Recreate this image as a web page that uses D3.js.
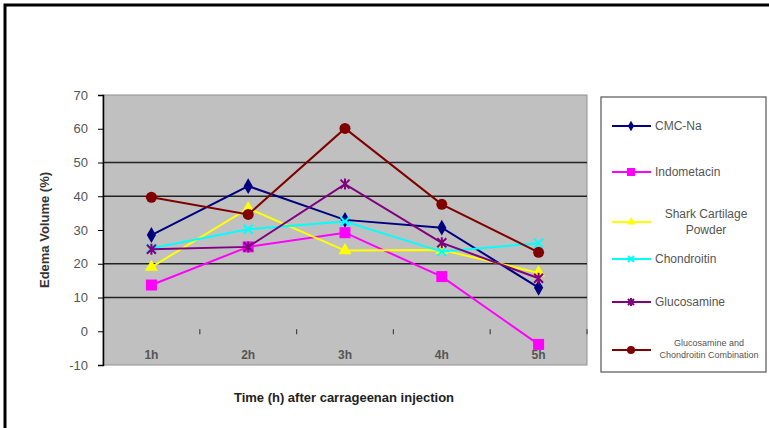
<!DOCTYPE html>
<html>
<head>
<meta charset="utf-8">
<script src="https://cdn.jsdelivr.net/npm/d3@7"></script>
<style>
  body { margin: 0; background: #fff; }
  svg { display: block; font-family: Arial, "Liberation Sans", sans-serif; }
</style>
</head>
<body>
<div id="chart"></div>
<script>
// data
let hours = ["1h", "2h", "3h", "4h", "5h"];
let yTicks = [-10, 0, 10, 20, 30, 40, 50, 60, 70];
let gridValues = [10, 20, 40, 50];

let cmcNa = [28.5, 43.0, 33.0, 30.7, 12.9];
let indometacin = [13.7, 25.0, 29.2, 16.2, -3.9];
let sharkCartilage = [19.0, 36.4, 23.9, 24.1, 17.3];
let chondroitin = [24.6, 30.2, 32.5, 23.6, 26.1];
let glucosamine = [24.3, 25.0, 43.6, 26.2, 15.7];
let combination = [39.7, 34.6, 60.1, 37.6, 23.4];

let series = [
  { name: ["CMC-Na"], values: cmcNa, color: "#000080", marker: "diamond" },
  { name: ["Indometacin"], values: indometacin, color: "#ff00ff", marker: "square" },
  { name: ["Shark Cartilage", "Powder"], values: sharkCartilage, color: "#ffff00", marker: "triangle" },
  { name: ["Chondroitin"], values: chondroitin, color: "#00ffff", marker: "x" },
  { name: ["Glucosamine"], values: glucosamine, color: "#800080", marker: "star" },
  { name: ["Glucosamine and", "Chondroitin Combination"], values: combination, color: "#800000", marker: "circle", small: true }
];

let W = 769, H = 428;
let svg = d3.select("#chart").append("svg")
            .attr("width", W)
            .attr("height", H);

svg.append("rect").attr("width", W).attr("height", H).attr("fill", "#fff");

// outer frame
svg.append("rect")
   .attr("x", 5).attr("y", 5)
   .attr("width", W + 10).attr("height", H + 10)
   .attr("fill", "none")
   .attr("stroke", "#000")
   .attr("stroke-width", 3);

let plot = { left: 103, top: 95, right: 587, bottom: 365 };

let x = d3.scaleBand()
          .domain(hours)
          .range([plot.left, plot.right]);

let y = d3.scaleLinear()
          .domain([-10, 70])
          .range([plot.bottom, plot.top]);

// plot area
svg.append("rect")
   .attr("x", plot.left).attr("y", plot.top)
   .attr("width", plot.right - plot.left)
   .attr("height", plot.bottom - plot.top)
   .attr("fill", "#c0c0c0")
   .attr("stroke", "#909090")
   .attr("stroke-width", 1);

// gridlines
svg.selectAll(".grid")
   .data(gridValues)
   .enter()
   .append("line")
   .attr("x1", plot.left).attr("x2", plot.right)
   .attr("y1", d => y(d)).attr("y2", d => y(d))
   .attr("stroke", "#222")
   .attr("stroke-width", 1.6);

// y axis
let yAxis = svg.append("g")
   .attr("transform", "translate(" + plot.left + ",0)")
   .call(d3.axisLeft(y).tickValues(yTicks).tickSize(5).tickPadding(10)
           .tickFormat(d => String(d)));
yAxis.select(".domain").attr("stroke", "#000").attr("stroke-width", 1.5);
yAxis.selectAll(".tick line").attr("stroke", "#000");
yAxis.selectAll("text")
     .style("font-size", "13px")
     .style("font-family", "Arial, sans-serif")
     .attr("fill", "#555");

// x axis at zero: only small tick marks between categories
svg.selectAll(".xtick")
   .data(hours)
   .enter()
   .append("line")
   .attr("x1", d => x(d) + x.bandwidth())
   .attr("x2", d => x(d) + x.bandwidth())
   .attr("y1", y(0) - 2)
   .attr("y2", y(0) + 3)
   .attr("stroke", "#444")
   .attr("stroke-width", 1.2);

// category labels, low position
svg.selectAll(".xlabel")
   .data(hours)
   .enter()
   .append("text")
   .attr("x", d => x(d) + x.bandwidth() / 2)
   .attr("y", plot.bottom - 6)
   .attr("text-anchor", "middle")
   .style("font-size", "12px")
   .style("font-weight", "bold")
   .attr("fill", "#555")
   .text(d => d);

// axis titles
svg.append("text")
   .attr("transform", "translate(49," + ((plot.top + plot.bottom) / 2) + ") rotate(-90)")
   .attr("text-anchor", "middle")
   .style("font-size", "13px")
   .style("font-weight", "bold")
   .attr("fill", "#333")
   .text("Edema Volume (%)");

svg.append("text")
   .attr("x", 344)
   .attr("y", 402)
   .attr("text-anchor", "middle")
   .style("font-size", "13px")
   .style("font-weight", "bold")
   .attr("fill", "#222")
   .text("Time (h) after carrageenan injection");

// marker drawing
function drawMarker(g, type, color, cx, cy, s) {
  if (type === "diamond") {
    g.append("path").attr("d", d3.symbol(d3.symbolDiamond, s * s * 0.9)())
     .attr("transform", "translate(" + cx + "," + cy + ")").attr("fill", color);
  } else if (type === "square") {
    g.append("rect").attr("x", cx - s / 2 - 1).attr("y", cy - s / 2 - 1)
     .attr("width", s + 2).attr("height", s + 2).attr("fill", color);
  } else if (type === "triangle") {
    g.append("path").attr("d", d3.symbol(d3.symbolTriangle, s * s * 0.9)())
     .attr("transform", "translate(" + cx + "," + cy + ")").attr("fill", color);
  } else if (type === "circle") {
    g.append("circle").attr("cx", cx).attr("cy", cy).attr("r", s / 2 + 1).attr("fill", color);
  } else if (type === "x" || type === "star") {
    let h = s / 2;
    let p = "M" + (cx - h) + "," + (cy - h) + "L" + (cx + h) + "," + (cy + h) +
            "M" + (cx - h) + "," + (cy + h) + "L" + (cx + h) + "," + (cy - h);
    if (type === "star") p += "M" + cx + "," + (cy - h - 1) + "L" + cx + "," + (cy + h + 1);
    g.append("path").attr("d", p).attr("stroke", color).attr("stroke-width", 2).attr("fill", "none");
  }
}

// lines and markers
let line = d3.line()
             .x((d, i) => x(hours[i]) + x.bandwidth() / 2)
             .y(d => y(d));

series.forEach(s => {
  let g = svg.append("g");
  g.append("path")
   .datum(s.values)
   .attr("d", line)
   .attr("fill", "none")
   .attr("stroke", s.color)
   .attr("stroke-width", 2);
  s.values.forEach((v, i) => {
    drawMarker(g, s.marker, s.color, x(hours[i]) + x.bandwidth() / 2, y(v), 9);
  });
});

// legend
let legend = svg.append("g");
legend.append("rect")
      .attr("x", 601).attr("y", 97)
      .attr("width", 165).attr("height", 275)
      .attr("fill", "#fff")
      .attr("stroke", "#555")
      .attr("stroke-width", 1.2);

let legendY = [126, 172, 222, 259, 302, 350];
series.forEach((s, i) => {
  let ly = legendY[i];
  let g = legend.append("g");
  g.append("line")
   .attr("x1", 612).attr("x2", 651)
   .attr("y1", ly).attr("y2", ly)
   .attr("stroke", s.color).attr("stroke-width", 2);
  drawMarker(g, s.marker, s.color, 631, ly, 6);
  let t = g.append("text")
           .attr("fill", "#555")
           .style("font-size", s.small ? "9px" : "12px");
  if (s.name.length === 1) {
    t.attr("x", 655).attr("y", ly + 4).text(s.name[0]);
  } else if (s.small) {
    t.attr("text-anchor", "middle");
    t.append("tspan").attr("x", 709).attr("y", ly - 4).text(s.name[0]);
    t.append("tspan").attr("x", 709).attr("y", ly + 8).text(s.name[1]);
  } else {
    t.attr("text-anchor", "middle");
    t.append("tspan").attr("x", 706).attr("y", ly - 4).text(s.name[0]);
    t.append("tspan").attr("x", 706).attr("y", ly + 12).text(s.name[1]);
  }
});
</script>
</body>
</html>
